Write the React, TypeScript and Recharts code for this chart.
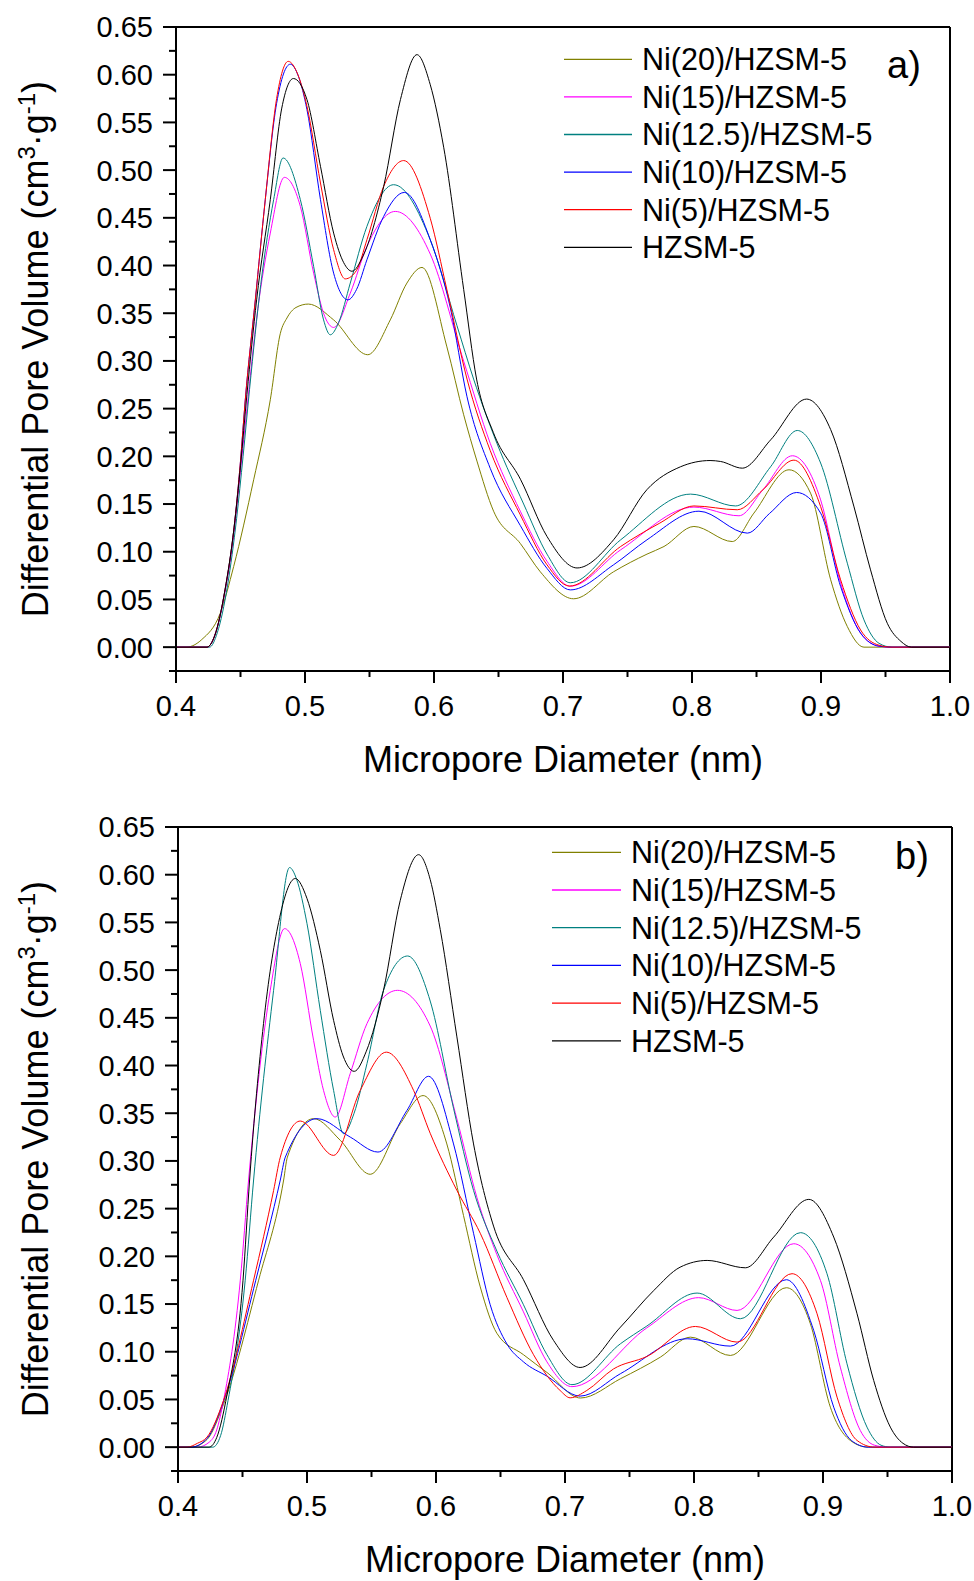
import React from "react";
import { LineChart, Line, XAxis, YAxis, ReferenceLine, Legend } from "recharts";

type Pt = [number, number];

const seriesNames = [
  "Ni(20)/HZSM-5",
  "Ni(15)/HZSM-5",
  "Ni(12.5)/HZSM-5",
  "Ni(10)/HZSM-5",
  "Ni(5)/HZSM-5",
  "HZSM-5",
];

const seriesColors = ["#808000", "#FF00FF", "#008080", "#0000FF", "#FF0000", "#000000"];

// axis ticks
const xMajorTicks = [0.4, 0.5, 0.6, 0.7, 0.8, 0.9, 1.0];
const xMinorTicks = [0.45, 0.55, 0.65, 0.75, 0.85, 0.95];
const yMajorTicks = [0, 0.05, 0.1, 0.15, 0.2, 0.25, 0.3, 0.35, 0.4, 0.45, 0.5, 0.55, 0.6, 0.65];
const yMinorTicks = [-0.025, 0.025, 0.075, 0.125, 0.175, 0.225, 0.275, 0.325, 0.375, 0.425, 0.475, 0.525, 0.575, 0.625];

// ---- panel a) ----
const aNi20: Pt[] = [
  [0.4, 0], [0.408, 0], [0.42, 0.008], [0.4343, 0.0356], [0.4447, 0.0845], [0.4602, 0.1754],
  [0.4731, 0.2593], [0.4809, 0.329], [0.486, 0.345], [0.493, 0.356], [0.5026, 0.3596],
  [0.5222, 0.343], [0.5486, 0.3065], [0.5661, 0.343], [0.579, 0.3816], [0.5907, 0.398],
  [0.61, 0.3147], [0.623, 0.2436], [0.6333, 0.195], [0.6462, 0.1425], [0.6669, 0.1087],
  [0.6824, 0.079], [0.7082, 0.0507], [0.7392, 0.079], [0.7651, 0.0975], [0.7783, 0.1055],
  [0.8015, 0.1265], [0.8312, 0.1107], [0.848, 0.1405], [0.8752, 0.1859], [0.8919, 0.1614],
  [0.9075, 0.0706], [0.9204, 0.0216], [0.9333, 0], [1.0, 0],
];
const aNi15: Pt[] = [
  [0.4, 0], [0.424, 0], [0.43, 0.012], [0.438, 0.058], [0.445, 0.12], [0.45, 0.185],
  [0.455, 0.25], [0.463, 0.35], [0.4731, 0.434], [0.484, 0.4924], [0.4964, 0.462],
  [0.5067, 0.392], [0.5153, 0.3466], [0.5222, 0.3351], [0.5351, 0.371], [0.548, 0.42],
  [0.57, 0.4567], [0.5971, 0.412], [0.623, 0.2997], [0.6436, 0.2136], [0.6669, 0.1425],
  [0.6876, 0.09], [0.7057, 0.0639], [0.7447, 0.102], [0.8015, 0.1468], [0.8364, 0.1377],
  [0.855, 0.165], [0.8778, 0.2006], [0.8997, 0.1544], [0.9152, 0.067], [0.9307, 0.0147],
  [0.945, 0.001], [0.955, 0], [1.0, 0],
];
const aNi125: Pt[] = [
  [0.4, 0], [0.426, 0], [0.432, 0.015], [0.44, 0.065], [0.447, 0.135], [0.452, 0.2],
  [0.457, 0.27], [0.4657, 0.38], [0.4757, 0.469], [0.483, 0.5127], [0.4964, 0.469],
  [0.5067, 0.399], [0.5144, 0.343], [0.5196, 0.3274], [0.526, 0.34], [0.5351, 0.3816],
  [0.548, 0.441], [0.5687, 0.4847], [0.5971, 0.427], [0.6178, 0.337], [0.6307, 0.281],
  [0.6488, 0.2136], [0.6695, 0.15], [0.6876, 0.0975], [0.7057, 0.0675], [0.7447, 0.1125],
  [0.7989, 0.1604], [0.8338, 0.148], [0.8609, 0.189], [0.8816, 0.2271], [0.8997, 0.193],
  [0.9204, 0.088], [0.9333, 0.0286], [0.945, 0.004], [0.955, 0], [1.0, 0],
];
const aNi10: Pt[] = [
  [0.4, 0], [0.424, 0], [0.43, 0.012], [0.438, 0.06], [0.445, 0.125], [0.45, 0.195],
  [0.4537, 0.259], [0.4615, 0.364], [0.4692, 0.469], [0.478, 0.57], [0.4886, 0.611],
  [0.495, 0.598], [0.5015, 0.5635], [0.512, 0.469], [0.5222, 0.392], [0.5333, 0.364],
  [0.54, 0.375], [0.548, 0.406], [0.561, 0.4515], [0.577, 0.4766], [0.5971, 0.427],
  [0.6126, 0.356], [0.6256, 0.2624], [0.6436, 0.1874], [0.6669, 0.1275], [0.6876, 0.0825],
  [0.7057, 0.06], [0.7392, 0.0863], [0.7651, 0.1125], [0.8054, 0.1425], [0.8429, 0.1195],
  [0.86, 0.14], [0.8811, 0.1621], [0.8997, 0.1405], [0.9152, 0.0636], [0.9307, 0.0147],
  [0.945, 0.001], [0.955, 0], [1.0, 0],
];
const aNi5: Pt[] = [
  [0.4, 0], [0.424, 0], [0.43, 0.012], [0.438, 0.06], [0.445, 0.125], [0.45, 0.195],
  [0.4537, 0.259], [0.4615, 0.364], [0.4692, 0.469], [0.478, 0.575], [0.487, 0.614],
  [0.4945, 0.6], [0.5015, 0.567], [0.512, 0.4865], [0.5222, 0.4165], [0.5312, 0.386],
  [0.54, 0.395], [0.548, 0.427], [0.561, 0.483], [0.5765, 0.51], [0.5971, 0.4495],
  [0.61, 0.3746], [0.6256, 0.281], [0.6436, 0.206], [0.6669, 0.1387], [0.6876, 0.0863],
  [0.705, 0.064], [0.7447, 0.1055], [0.775, 0.13], [0.8015, 0.148], [0.8351, 0.144],
  [0.855, 0.165], [0.879, 0.196], [0.8997, 0.1474], [0.9152, 0.0706], [0.9307, 0.018],
  [0.945, 0.002], [0.955, 0], [1.0, 0],
];
const aHzsm: Pt[] = [
  [0.4, 0], [0.424, 0], [0.43, 0.012], [0.438, 0.06], [0.445, 0.125], [0.45, 0.19],
  [0.455, 0.265], [0.4625, 0.364], [0.4731, 0.469], [0.482, 0.565], [0.491, 0.596],
  [0.5015, 0.574], [0.512, 0.504], [0.5222, 0.434], [0.53, 0.403], [0.5364, 0.394],
  [0.545, 0.41], [0.561, 0.483], [0.574, 0.574], [0.5868, 0.621], [0.597, 0.59],
  [0.6075, 0.524], [0.623, 0.375], [0.633, 0.281], [0.646, 0.225], [0.667, 0.176],
  [0.6876, 0.116], [0.7109, 0.083], [0.7392, 0.1125], [0.765, 0.165], [0.791, 0.189],
  [0.814, 0.1956], [0.8222, 0.1946], [0.839, 0.1876], [0.861, 0.2173], [0.8888, 0.26],
  [0.9075, 0.228], [0.9256, 0.147], [0.9384, 0.081], [0.9514, 0.025], [0.962, 0.006],
  [0.97, 0], [1.0, 0],
];

// ---- panel b) ----
const bNi20: Pt[] = [
  [0.4, 0], [0.41, 0], [0.4225, 0.008], [0.4353, 0.045], [0.4625, 0.175], [0.4819, 0.28],
  [0.4848, 0.304], [0.5051, 0.3443], [0.5258, 0.3216], [0.549, 0.286], [0.5723, 0.339],
  [0.59, 0.3685], [0.6084, 0.3178], [0.6213, 0.2429], [0.6343, 0.168], [0.6472, 0.1193],
  [0.6678, 0.0969], [0.686, 0.0783], [0.712, 0.0515], [0.743, 0.0717], [0.774, 0.0944],
  [0.7972, 0.1153], [0.8282, 0.0961], [0.8716, 0.1671], [0.8902, 0.1294], [0.9057, 0.0419],
  [0.9212, 0.007], [0.935, 0], [1.0, 0],
];
const bNi15: Pt[] = [
  [0.4, 0], [0.415, 0], [0.424, 0.005], [0.43, 0.018], [0.4353, 0.049], [0.4483, 0.175],
  [0.4547, 0.28], [0.4715, 0.4788], [0.4826, 0.5435], [0.4948, 0.5068], [0.5051, 0.4264],
  [0.5128, 0.374], [0.5219, 0.346], [0.5335, 0.3915], [0.5465, 0.444], [0.5702, 0.4788],
  [0.5955, 0.4414], [0.6162, 0.344], [0.6317, 0.2617], [0.6472, 0.2017], [0.6678, 0.1418],
  [0.686, 0.0894], [0.7054, 0.0634], [0.7634, 0.125], [0.8036, 0.1567], [0.8334, 0.1433],
  [0.8773, 0.2132], [0.898, 0.1748], [0.9134, 0.0839], [0.9289, 0.0175], [0.94, 0.002],
  [0.95, 0], [1.0, 0],
];
const bNi125: Pt[] = [
  [0.4, 0], [0.427, 0], [0.433, 0.012], [0.4388, 0.049], [0.4521, 0.175], [0.4586, 0.28],
  [0.4741, 0.4788], [0.4865, 0.6075], [0.492, 0.595], [0.5, 0.5487], [0.5103, 0.4578],
  [0.5206, 0.374], [0.5283, 0.3286], [0.5365, 0.35], [0.5465, 0.402], [0.5593, 0.4788],
  [0.578, 0.5148], [0.5955, 0.4676], [0.6136, 0.3552], [0.6291, 0.2691], [0.6472, 0.2055],
  [0.6678, 0.1493], [0.686, 0.0969], [0.7054, 0.0655], [0.743, 0.1084], [0.7634, 0.1269],
  [0.8024, 0.1615], [0.836, 0.1346], [0.8825, 0.2248], [0.9031, 0.1818], [0.9186, 0.0874],
  [0.9341, 0.021], [0.945, 0.002], [0.9522, 0], [1.0, 0],
];
const bNi10: Pt[] = [
  [0.4, 0], [0.41, 0], [0.4225, 0.009], [0.4353, 0.048], [0.4603, 0.175], [0.4793, 0.28],
  [0.4832, 0.304], [0.5077, 0.3443], [0.5335, 0.325], [0.555, 0.3093], [0.5775, 0.353],
  [0.5942, 0.3887], [0.6136, 0.3178], [0.6291, 0.2242], [0.642, 0.1493], [0.655, 0.1081],
  [0.6678, 0.0894], [0.686, 0.0744], [0.7117, 0.0535], [0.743, 0.077], [0.7947, 0.1136],
  [0.8282, 0.1059], [0.8716, 0.1755], [0.8928, 0.1223], [0.9083, 0.0419], [0.922, 0.007],
  [0.935, 0], [1.0, 0],
];
const bNi5: Pt[] = [
  [0.4, 0], [0.407, 0], [0.415, 0.004], [0.4225, 0.0105], [0.4353, 0.049], [0.4586, 0.175],
  [0.4741, 0.269], [0.4793, 0.304], [0.4948, 0.3418], [0.5206, 0.3058], [0.5413, 0.374],
  [0.5615, 0.414], [0.5826, 0.374], [0.5955, 0.329], [0.6162, 0.2691], [0.6343, 0.2242],
  [0.655, 0.1568], [0.6756, 0.0969], [0.6962, 0.0594], [0.704, 0.0517], [0.7169, 0.0594],
  [0.7375, 0.0819], [0.7634, 0.095], [0.8011, 0.1265], [0.8334, 0.1101], [0.876, 0.1818],
  [0.8954, 0.1398], [0.9109, 0.0524], [0.9264, 0.007], [0.94, 0], [1.0, 0],
];
const bHzsm: Pt[] = [
  [0.4, 0], [0.424, 0], [0.43, 0.01], [0.438, 0.055], [0.4504, 0.175], [0.4555, 0.28],
  [0.4663, 0.444], [0.478, 0.55], [0.4909, 0.596], [0.5, 0.575], [0.5103, 0.5207],
  [0.5206, 0.4474], [0.528, 0.41], [0.5366, 0.3939], [0.546, 0.415], [0.5593, 0.4788],
  [0.5723, 0.5732], [0.5865, 0.621], [0.5955, 0.595], [0.6033, 0.5425], [0.6162, 0.43],
  [0.6291, 0.3178], [0.6446, 0.2317], [0.6678, 0.1755], [0.6911, 0.1119], [0.7117, 0.0835],
  [0.743, 0.1258], [0.7689, 0.1643], [0.7892, 0.1886], [0.8102, 0.1957], [0.8398, 0.188],
  [0.8618, 0.2202], [0.889, 0.2597], [0.9083, 0.2202], [0.9264, 0.1398], [0.9393, 0.0699],
  [0.9522, 0.021], [0.962, 0.004], [0.9703, 0], [1.0, 0],
];

const panelA = [aNi20, aNi15, aNi125, aNi10, aNi5, aHzsm];
const panelB = [bNi20, bNi15, bNi125, bNi10, bNi5, bHzsm];

const FONT = "'Liberation Sans', Arial, Helvetica, sans-serif";
const xTicks = [...xMajorTicks, ...xMinorTicks].sort((a, b) => a - b);
const yTicks = [...yMajorTicks, ...yMinorTicks].sort((a, b) => a - b);

const isMajor = (list: number[], v: number) => list.some((t) => Math.abs(t - v) < 1e-6);

const XTick = (props: any) => {
  const { x, y, payload } = props;
  const v = payload.value;
  if (!isMajor(xMajorTicks, v)) {
    return <line x1={x} x2={x} y1={y} y2={y + 6} stroke="#000" strokeWidth={2} />;
  }
  return (
    <g>
      <line x1={x} x2={x} y1={y} y2={y + 12} stroke="#000" strokeWidth={2} />
      <text x={x} y={y + 45} textAnchor="middle" fontSize={29} fontFamily={FONT} fill="#000">
        {v.toFixed(1)}
      </text>
    </g>
  );
};

const YTick = (props: any) => {
  const { x, y, payload } = props;
  const v = payload.value;
  if (!isMajor(yMajorTicks, v)) {
    return <line x1={x - 7} x2={x} y1={y} y2={y} stroke="#000" strokeWidth={2} />;
  }
  return (
    <g>
      <line x1={x - 13} x2={x} y1={y} y2={y} stroke="#000" strokeWidth={2} />
      <text x={x - 23} y={y + 10.4} textAnchor="end" fontSize={29} fontFamily={FONT} fill="#000">
        {v.toFixed(2)}
      </text>
    </g>
  );
};

const xTitle = (p: any) => {
  const vb = p.viewBox;
  return (
    <text x={vb.x + vb.width / 2} y={vb.y + 100.5} textAnchor="middle" fontSize={36} fontFamily={FONT} fill="#000">
      Micropore Diameter (nm)
    </text>
  );
};

const yTitle = (p: any) => {
  const vb = p.viewBox;
  const cx = 47.5;
  const cy = vb.y + vb.height / 2;
  return (
    <text x={cx} y={cy} textAnchor="middle" fontSize={36} fontFamily={FONT} fill="#000" transform={`rotate(-90, ${cx}, ${cy})`}>
      Differential Pore Volume (cm
      <tspan dy={-13} fontSize={24}>3</tspan>
      <tspan dy={13}>·g</tspan>
      <tspan dy={-13} fontSize={24}>-1</tspan>
      <tspan dy={13}>)</tspan>
    </text>
  );
};

interface PanelProps {
  series: Pt[][];
  tag: string;
  top: number;
  height: number;
  margin: { top: number; right: number; bottom: number; left: number };
  yAxisWidth: number;
  legendLine: [number, number];
  legendRow0: number;
  legendStep: number;
  tagPos: [number, number];
}

function Panel({ series, tag, top, height, margin, yAxisWidth, legendLine, legendRow0, legendStep, tagPos }: PanelProps) {
  const renderLegend = () => (
    <svg width={974} height={300} style={{ display: "block" }}>
      {seriesNames.map((name, i) => {
        const ry = legendRow0 + i * legendStep;
        return (
          <g key={name}>
            <line x1={legendLine[0]} x2={legendLine[1]} y1={ry} y2={ry} stroke={seriesColors[i]} strokeWidth={1.3} />
            <text x={legendLine[1] + 10} y={ry + 10.8} fontSize={30.5} fontFamily={FONT} fill="#000">
              {name}
            </text>
          </g>
        );
      })}
      <text x={tagPos[0]} y={tagPos[1]} fontSize={38} fontFamily={FONT} fill="#000">
        {tag}
      </text>
    </svg>
  );

  return (
    <div style={{ position: "absolute", left: 0, top, width: 974, height }}>
      <LineChart width={974} height={height} margin={margin}>
        <XAxis
          type="number"
          dataKey="x"
          domain={[0.4, 1.0]}
          ticks={xTicks}
          interval={0}
          height={110}
          tickSize={0}
          tickMargin={0}
          tickLine={false}
          tick={<XTick />}
          axisLine={{ stroke: "#000", strokeWidth: 2 }}
          label={xTitle}
        />
        <YAxis
          type="number"
          domain={[-0.025, 0.65]}
          ticks={yTicks}
          interval={0}
          width={yAxisWidth}
          tickSize={0}
          tickMargin={0}
          tickLine={false}
          tick={<YTick />}
          axisLine={{ stroke: "#000", strokeWidth: 2 }}
          label={yTitle}
        />
        <ReferenceLine y={0.65} stroke="#000" strokeWidth={2} />
        <ReferenceLine x={1.0} stroke="#000" strokeWidth={2} />
        {series.map((pts, i) => (
          <Line
            key={seriesNames[i]}
            name={seriesNames[i]}
            data={pts.map(([x, y]) => ({ x, y }))}
            dataKey="y"
            type="monotone"
            stroke={seriesColors[i]}
            strokeWidth={1}
            dot={false}
            activeDot={false}
            isAnimationActive={false}
          />
        ))}
        <Legend
          layout="horizontal"
          verticalAlign="middle"
          align="center"
          content={renderLegend}
          wrapperStyle={{ left: 0, top: 0, width: 974, height: 300, pointerEvents: "none" }}
        />
      </LineChart>
    </div>
  );
}

export default function App() {
  return (
    <div style={{ position: "absolute", left: 0, top: 0, width: 974, height: 1581, background: "#fff", fontFamily: FONT }}>
      <Panel
        series={panelA}
        tag="a)"
        top={0}
        height={790}
        margin={{ top: 27, right: 24, bottom: 9, left: 0 }}
        yAxisWidth={176}
        legendLine={[564, 632]}
        legendRow0={59.3}
        legendStep={37.6}
        tagPos={[887, 78]}
      />
      <Panel
        series={panelB}
        tag="b)"
        top={790}
        height={791}
        margin={{ top: 37, right: 22, bottom: 0, left: 0 }}
        yAxisWidth={178}
        legendLine={[552, 621]}
        legendRow0={62.3}
        legendStep={37.7}
        tagPos={[895, 79]}
      />
    </div>
  );
}
